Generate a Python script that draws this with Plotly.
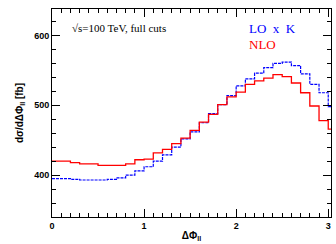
import plotly.graph_objects as go

bin_edges = [round(0.1 * i, 1) for i in range(32)]
nlo = [420, 420, 418, 416, 416, 414, 414, 414, 416, 422,
       423, 432, 437, 445, 453, 464, 476, 487, 501, 512,
       519, 530, 535, 539, 544, 541, 532, 518, 499, 478, 466]
lok = [395, 395, 394, 393, 393, 393, 394, 396, 400, 406,
       412, 420, 429, 440, 452, 462, 475, 488, 501, 514,
       528, 538, 546, 554, 560, 562, 557, 545, 530, 518, 498]
x_ticks = [0, 1, 2, 3]
y_ticks = [400, 500, 600]
x_range = [0, 3.03]
y_range = [340, 638]

fig = go.Figure()
fig.add_trace(go.Scatter(x=bin_edges, y=lok + [lok[-1]], mode="lines",
                         line=dict(color="#0000ff", width=1.2, shape="hv", dash="3px,1px"),
                         showlegend=False, hoverinfo="skip"))
fig.add_trace(go.Scatter(x=bin_edges, y=nlo + [nlo[-1]], mode="lines",
                         line=dict(color="#ff0000", width=1.3, shape="hv"),
                         showlegend=False, hoverinfo="skip"))

tfont = dict(family="Liberation Sans", size=9, color="black", weight="bold")
axis_common = dict(showgrid=False, zeroline=False, showline=True, linecolor="black",
                   linewidth=1, ticks="inside", tickcolor="black", ticklen=8, tickwidth=1,
                   automargin=False, tickfont=tfont)

fig.update_layout(
    xaxis=dict(range=x_range, tickvals=x_ticks,
               minor=dict(dtick=0.1, ticklen=4, ticks="inside", tickcolor="black"),
               title=dict(text="ΔΦ<sub>ll</sub>", standoff=2,
                          font=dict(family="Liberation Sans", size=10, color="black", weight="bold")),
               **axis_common),
    yaxis=dict(range=y_range, tickvals=y_ticks,
               minor=dict(dtick=20, ticklen=4, ticks="inside", tickcolor="black"),
               title=dict(text="dσ/dΔΦ<sub>ll</sub> [fb]", standoff=8,
                          font=dict(family="Liberation Sans", size=10, color="black", weight="bold")),
               **axis_common),
    xaxis2=dict(range=x_range, tickvals=x_ticks, overlaying="x", side="top", anchor="y",
                showticklabels=False,
                minor=dict(dtick=0.1, ticklen=4, ticks="inside", tickcolor="black"),
                **axis_common),
    yaxis2=dict(range=y_range, tickvals=y_ticks, overlaying="y", side="right", anchor="x",
                showticklabels=False,
                minor=dict(dtick=20, ticklen=4, ticks="inside", tickcolor="black"),
                **axis_common),
)
# invisible helper trace so the mirrored top/right axes are drawn
fig.add_trace(go.Scatter(x=[x_range[0]], y=[y_range[0]], xaxis="x2", yaxis="y2",
                         mode="markers", marker=dict(opacity=0), showlegend=False, hoverinfo="skip"))

fig.add_annotation(x=0.065, y=0.909, xref="paper", yref="paper", xanchor="left", yanchor="middle",
                   text="√s=100 TeV, full cuts", showarrow=False,
                   font=dict(family="Liberation Serif", size=11, color="black"))
fig.add_annotation(x=0.699, y=0.908, xref="paper", yref="paper", xanchor="left", yanchor="middle",
                   text="LO  x  K", showarrow=False,
                   font=dict(family="Liberation Serif", size=13, color="#0000ff"))
fig.add_annotation(x=0.699, y=0.83, xref="paper", yref="paper", xanchor="left", yanchor="middle",
                   text="NLO", showarrow=False,
                   font=dict(family="Liberation Serif", size=13, color="#ff0000"))

fig.update_layout(width=336, height=244, margin=dict(l=52, r=5, t=9, b=27, autoexpand=False),
                  plot_bgcolor="white", paper_bgcolor="white")
fig.write_html("out.html", config=dict(displayModeBar=False, staticPlot=True),
               post_script="document.body.style.margin='0';document.body.style.overflow='hidden';")
